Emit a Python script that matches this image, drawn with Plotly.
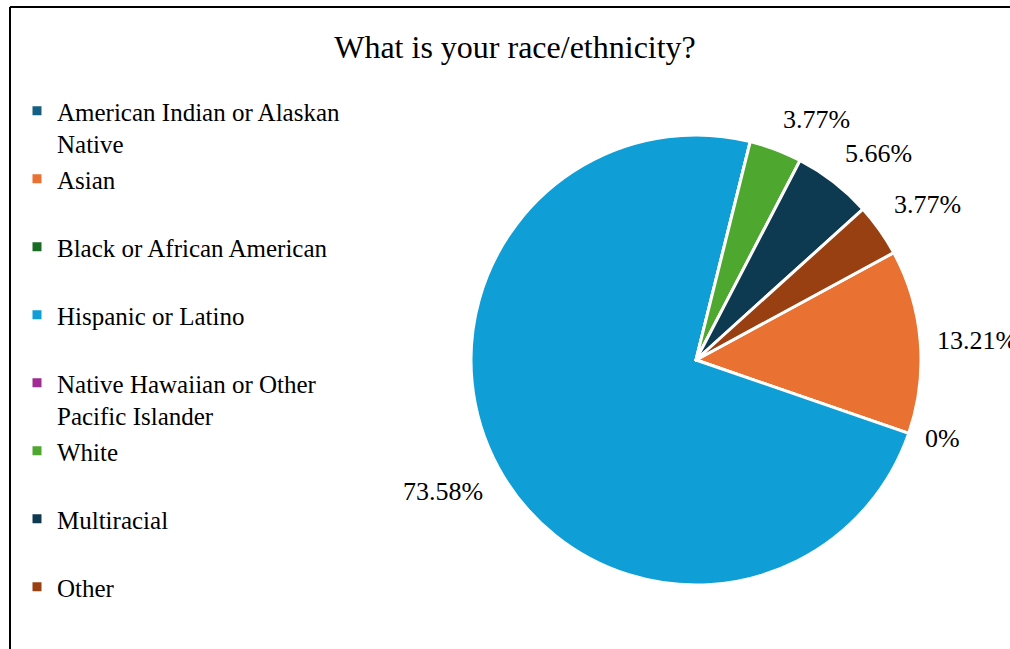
import math
import plotly.graph_objects as go

# Survey responses: "What is your race/ethnicity?"
categories = [
    "American Indian or Alaskan Native",
    "Asian",
    "Black or African American",
    "Hispanic or Latino",
    "Native Hawaiian or Other Pacific Islander",
    "White",
    "Multiracial",
    "Other",
]
counts = [0, 7, 0, 39, 0, 2, 3, 2]
# whether the slice gets a percentage label beside the pie
show_label = [False, True, True, True, False, True, True, True]
# legend text, wrapped the way it appears in the legend column
legend_text = [
    "American Indian or Alaskan<br>Native",
    "Asian<br> ",
    "Black or African American<br> ",
    "Hispanic or Latino<br> ",
    "Native Hawaiian or Other<br>Pacific Islander",
    "White<br> ",
    "Multiracial<br> ",
    "Other<br> ",
]
colors = ["#156082", "#E97132", "#196B24", "#0F9ED5",
          "#A02B93", "#4EA72E", "#0E3A51", "#984011"]

SERIF = "Liberation Serif, Times New Roman, serif"
START_ANGLE = 61.5  # degrees clockwise from 12 o'clock where the first slice begins

total = sum(counts)


def pct_text(v):
    return "0%" if v == 0 else f"{v / total * 100:.2f}%"


W, H = 1010, 649
cx, cy, r = 696, 360, 225
label_gap = 15

fig = go.Figure(
    go.Pie(
        labels=legend_text,
        values=counts,
        textinfo="none",
        marker=dict(colors=colors, line=dict(color="#FFFFFF", width=3)),
        sort=False,
        direction="clockwise",
        rotation=START_ANGLE,
        showlegend=True,
        domain=dict(x=[(cx - r) / W, (cx + r) / W],
                    y=[1 - (cy + r) / H, 1 - (cy - r) / H]),
        hoverinfo="label+percent",
    )
)

# percentage labels placed just outside each slice, at its mid-angle
annotations = []
acc = 0.0
for v, show in zip(counts, show_label):
    mid = math.radians(START_ANGLE + (acc + v / 2) / total * 360)
    acc += v
    if not show:
        continue
    s, c = math.sin(mid), math.cos(mid)
    px = cx + s * (r + label_gap)
    py = cy - c * (r + label_gap)
    xanchor = "left" if s > 0.3 else ("right" if s < -0.3 else "center")
    yanchor = "bottom" if c > 0.35 else ("top" if c < -0.35 else "middle")
    annotations.append(dict(
        text=pct_text(v), x=px / W, y=1 - py / H, xref="paper", yref="paper",
        xanchor=xanchor, yanchor=yanchor, showarrow=False,
        font=dict(family=SERIF, size=26, color="#000000"),
    ))

fig.update_layout(
    width=W,
    height=H,
    margin=dict(l=0, r=0, t=0, b=0),
    paper_bgcolor="#FFFFFF",
    plot_bgcolor="#FFFFFF",
    font=dict(family=SERIF, color="#000000"),
    title=dict(
        text="What is your race/ethnicity?",
        font=dict(family=SERIF, size=32, color="#000000"),
        x=515 / W,
        xanchor="center",
        y=1 - 47 / H,
        yanchor="middle",
    ),
    legend=dict(
        x=17 / W,
        xanchor="left",
        y=1 - 88 / H,
        yanchor="top",
        valign="top",
        font=dict(family=SERIF, size=25, color="#000000"),
        bgcolor="rgba(0,0,0,0)",
        traceorder="normal",
    ),
    annotations=annotations,
    shapes=[
        dict(type="line", xref="paper", yref="paper",
             x0=10 / W, x1=1, y0=1 - 7 / H, y1=1 - 7 / H,
             line=dict(color="#000000", width=2)),
        dict(type="line", xref="paper", yref="paper",
             x0=10 / W, x1=10 / W, y0=0, y1=1 - 7 / H,
             line=dict(color="#000000", width=2)),
    ],
)

fig.write_html("out.html")
